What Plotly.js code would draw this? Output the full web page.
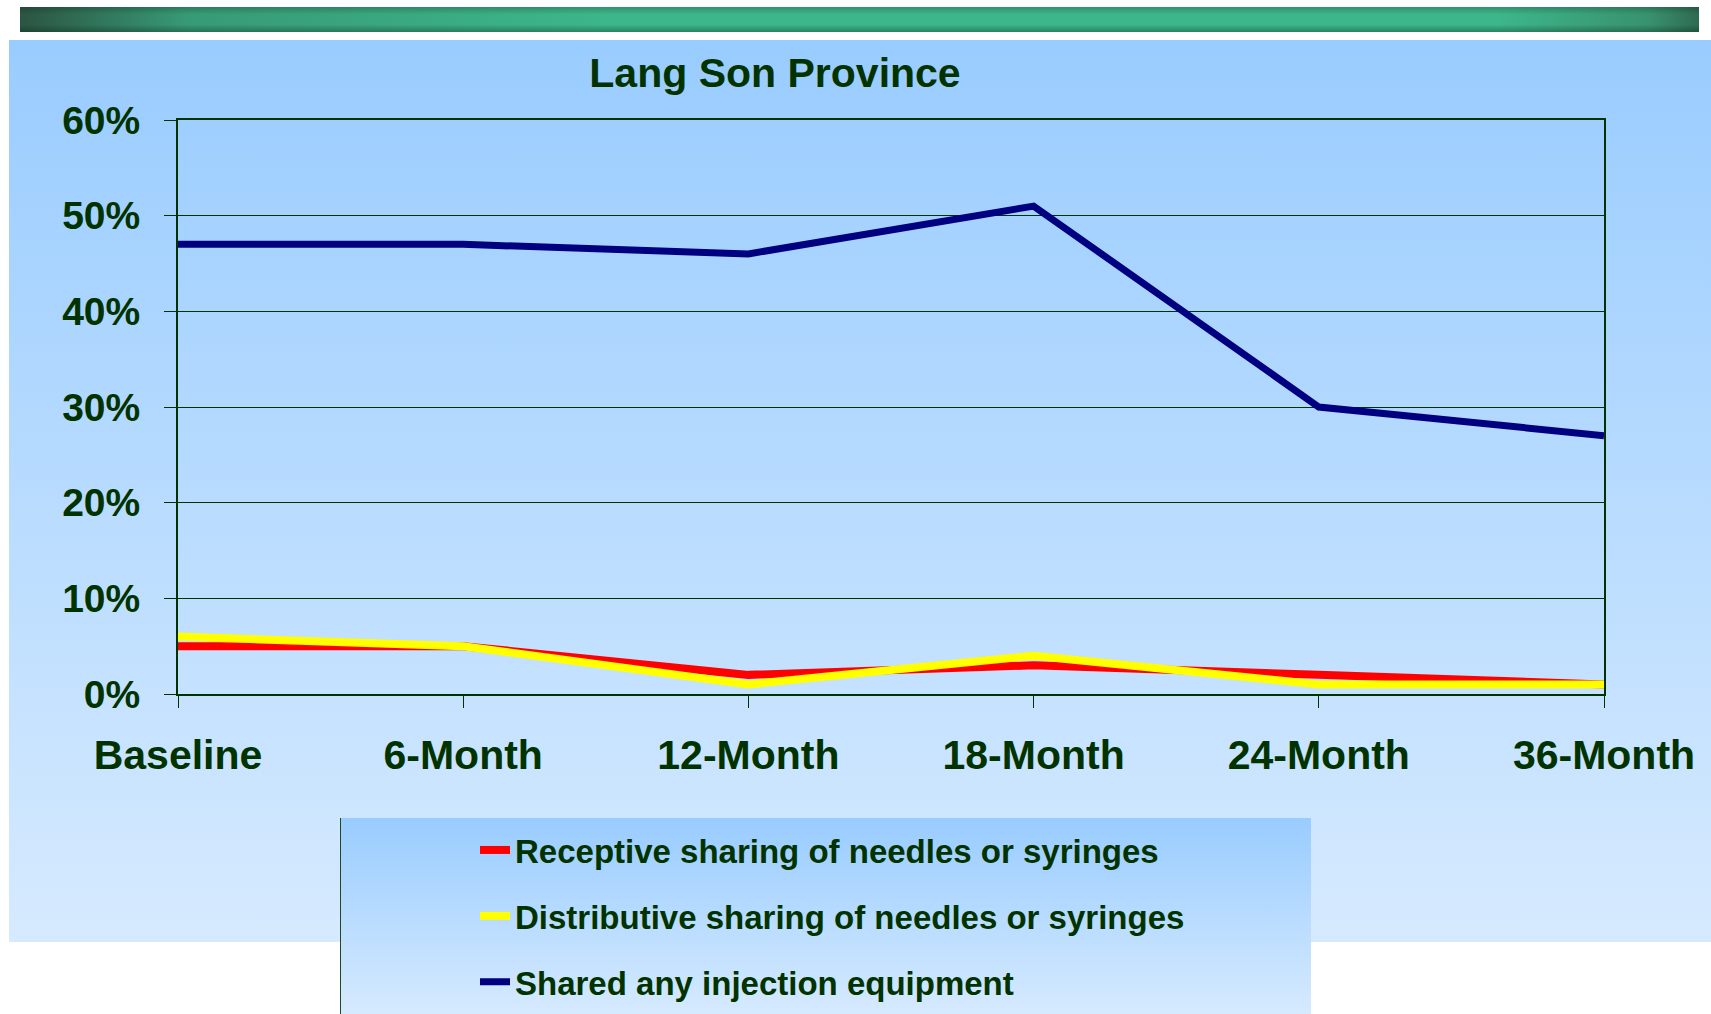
<!DOCTYPE html>
<html>
<head>
<meta charset="utf-8">
<script src="https://cdn.plot.ly/plotly-3.0.1.min.js"></script>
<style>
  html, body { margin: 0; padding: 0; background: #ffffff; }
  #wrap { position: relative; width: 1711px; height: 1014px; overflow: hidden; background: #ffffff; }
  #bar { position: absolute; left: 20px; top: 7px; width: 1679px; height: 25px;
    background:
      linear-gradient(to bottom, rgba(0,40,20,0.25) 0%, rgba(0,0,0,0) 30%, rgba(0,0,0,0) 70%, rgba(0,40,20,0.35) 100%),
      linear-gradient(to right, #2c5443 0%, #379a76 10%, #3db68b 35%, #3db68b 88%, #38926f 97%, #2f6a52 100%); }
  #bg { position: absolute; left: 9px; top: 40px; width: 1702px; height: 902px;
    background: linear-gradient(to bottom, #99ccff 0%, #d6eaff 100%); }
  #legbg { position: absolute; left: 340px; top: 818px; width: 970px; height: 196px;
    background: linear-gradient(to bottom, #99ccff 0%, #d6eaff 100%);
    border-left: 1px solid #1f4a1f; }
  #chart { position: absolute; left: 0; top: 0; width: 1711px; height: 1014px; }
</style>
</head>
<body>
<div id="wrap">
  <div id="bar"></div>
  <div id="bg"></div>
  <div id="legbg"></div>
  <div id="chart"></div>
</div>
<script>
const categories = ["Baseline", "6-Month", "12-Month", "18-Month", "24-Month", "36-Month"];
const receptive = [5, 5, 2, 3, 2, 1];
const distributive = [6, 5, 1, 4, 1, 1];
const sharedAny = [47, 47, 46, 51, 30, 27];
const seriesNames = [
  "Receptive sharing of needles or syringes",
  "Distributive sharing of needles or syringes",
  "Shared any injection equipment"
];
const yTicks = [0, 10, 20, 30, 40, 50, 60];
const yTickLabels = ["0%", "10%", "20%", "30%", "40%", "50%", "60%"];

const FONT = '"Liberation Sans", Arial, sans-serif';
const DARK = '#003300';

const traces = [
  { x: categories, y: receptive, name: seriesNames[0], type: 'scatter', mode: 'lines',
    line: { color: '#ff0000', width: 8 }, legendgroup: 'a' },
  { x: categories, y: distributive, name: seriesNames[1], type: 'scatter', mode: 'lines',
    line: { color: '#ffff00', width: 8 }, legendgroup: 'b' },
  { x: categories, y: sharedAny, name: seriesNames[2], type: 'scatter', mode: 'lines',
    line: { color: '#000080', width: 7 }, legendgroup: 'c' }
];

const layout = {
  width: 1711, height: 1014,
  paper_bgcolor: 'rgba(0,0,0,0)',
  plot_bgcolor: 'rgba(0,0,0,0)',
  margin: { l: 178, r: 107, t: 120, b: 320, pad: 0, autoexpand: false },
  title: { text: '<b>Lang Son Province</b>', font: { family: FONT, size: 41, color: DARK },
    xref: 'container', x: 775 / 1711, xanchor: 'center',
    yref: 'container', y: 1 - 73 / 1014, yanchor: 'middle' },
  showlegend: true,
  legend: {
    xref: 'container', yref: 'container',
    x: 475 / 1711, xanchor: 'left',
    y: 1 - 822 / 1014, yanchor: 'top',
    bgcolor: 'rgba(0,0,0,0)', borderwidth: 0,
    font: { family: FONT, size: 33, color: DARK, weight: 'bold' },
    traceorder: 'grouped', tracegroupgap: 20
  },
  xaxis: {
    type: 'category', range: [0, 5], autorange: false, automargin: false,
    tickangle: 0,
    showgrid: false, zeroline: false,
    showline: true, linecolor: DARK, linewidth: 2, mirror: true,
    ticks: 'outside', ticklen: 12, tickwidth: 1, tickcolor: DARK,
    tickfont: { family: FONT, size: 41, color: DARK, weight: 'bold' },
    ticklabelstandoff: 12
  },
  yaxis: {
    range: [0, 60], autorange: false, automargin: false,
    tickvals: yTicks, ticktext: yTickLabels,
    showgrid: true, gridcolor: DARK, gridwidth: 1, zeroline: false,
    showline: true, linecolor: DARK, linewidth: 2, mirror: true,
    ticks: 'outside', ticklen: 12, tickwidth: 1, tickcolor: DARK,
    tickfont: { family: FONT, size: 39, color: DARK, weight: 'bold' },
    ticklabelstandoff: 16
  }
};

Plotly.newPlot('chart', traces, layout, { displayModeBar: false, staticPlot: true });
</script>
</body>
</html>
